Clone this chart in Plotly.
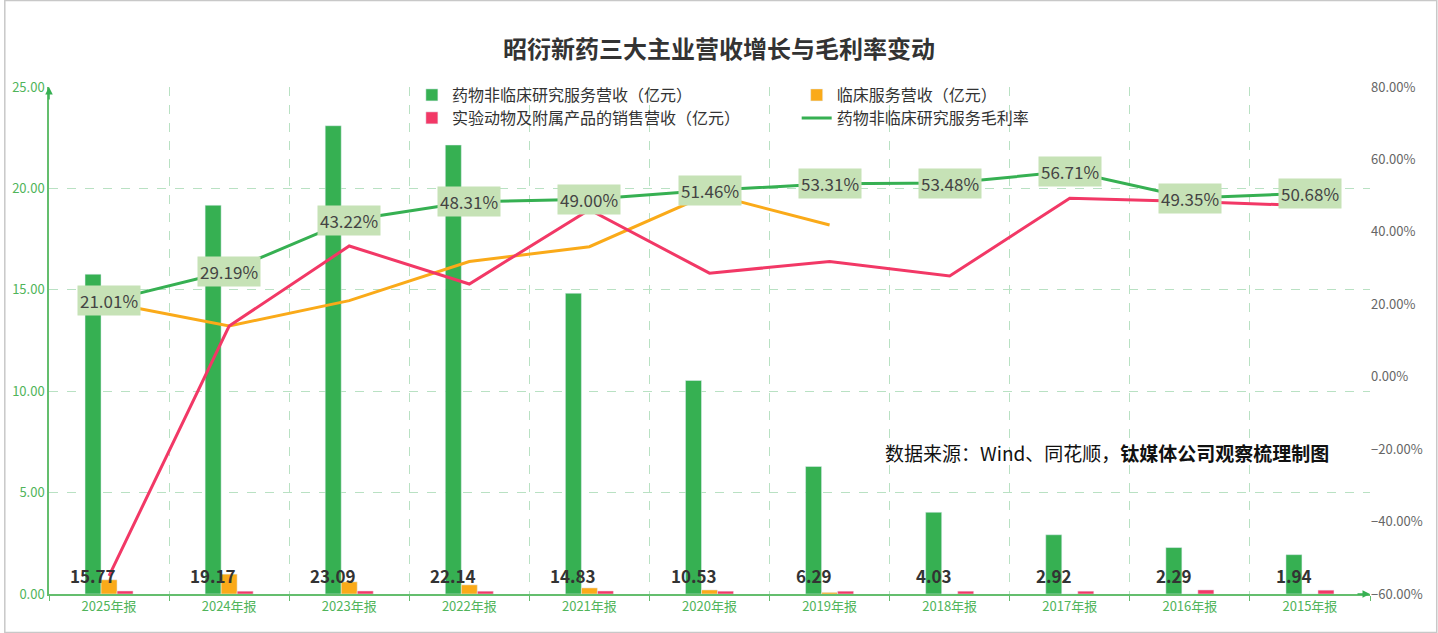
import plotly.graph_objects as go

# ---------------- 数据 ----------------
periods = ['2025年报', '2024年报', '2023年报', '2022年报', '2021年报', '2020年报',
           '2019年报', '2018年报', '2017年报', '2016年报', '2015年报']

# 营收（亿元）
rev_nonclinical = [15.77, 19.17, 23.09, 22.14, 14.83, 10.53, 6.29, 4.03, 2.92, 2.29, 1.94]
rev_clinical = [0.70, 0.98, 0.60, 0.45, 0.30, 0.20, 0.08, 0.0, 0.0, 0.0, 0.0]
rev_animal = [0.15, 0.14, 0.15, 0.14, 0.15, 0.14, 0.14, 0.14, 0.14, 0.20, 0.19]

# 毛利率（%）
gm_nonclinical = [21.01, 29.19, 43.22, 48.31, 49.00, 51.46, 53.31, 53.48, 56.71, 49.35, 50.68]
gm_clinical = [20.4, 14.0, 21.0, 31.8, 35.9, 50.5, 41.9, None, None, None, None]
gm_animal = [-55.0, 14.0, 36.1, 25.6, 46.1, 28.6, 31.8, 27.8, 49.3, 48.4, 47.2]

GREEN = 'rgb(54,176,82)'
ORANGE = 'rgb(250,170,25)'
RED = 'rgb(242,56,102)'
AXIS_GREEN = 'rgb(100,190,110)'
GRID = 'rgb(185,225,195)'

fig = go.Figure()

# 图例：两行两列，每个图例单独摆放
fig.add_trace(go.Bar(x=periods, y=rev_nonclinical, name='药物非临床研究服务营收（亿元）',
                     marker_color=GREEN, legend='legend'))
fig.add_trace(go.Bar(x=periods, y=rev_clinical, name='临床服务营收（亿元）',
                     marker_color=ORANGE, legend='legend2'))
fig.add_trace(go.Bar(x=periods, y=rev_animal, name='实验动物及附属产品的销售营收（亿元）',
                     marker_color=RED, legend='legend3'))

fig.add_trace(go.Scatter(x=periods, y=gm_nonclinical, name='药物非临床研究服务毛利率',
                         mode='lines', line=dict(color=GREEN, width=3), yaxis='y2',
                         legend='legend4'))
fig.add_trace(go.Scatter(x=periods, y=gm_clinical, mode='lines', showlegend=False,
                         line=dict(color=ORANGE, width=3), yaxis='y2', connectgaps=False))
fig.add_trace(go.Scatter(x=periods, y=gm_animal, mode='lines', showlegend=False,
                         line=dict(color=RED, width=3), yaxis='y2'))

annotations = []
# 毛利率标签
for p, v in zip(periods, gm_nonclinical):
    annotations.append(dict(x=p, y=v, xref='x', yref='y2', text='%.2f%%' % v,
                            showarrow=False, bgcolor='rgb(198,226,182)', borderpad=2,
                            font=dict(size=17, color='#444')))
# 柱子数值
for p, v in zip(periods, rev_nonclinical):
    annotations.append(dict(x=p, y=0, xref='x', yref='y', text='<b>%.2f</b>' % v,
                            showarrow=False, xshift=-16, yshift=19,
                            font=dict(size=17, color='#333')))

# 数据来源
annotations.append(dict(x=0.631, y=0.248, xref='paper', yref='paper', xanchor='left',
                        text='数据来源：Wind、同花顺，<b>钛媒体公司观察梳理制图</b>',
                        showarrow=False, font=dict(size=19, color='#111')))

# 坐标轴箭头
annotations.append(dict(x=1, y=0, xref='paper', yref='paper', ax=-14, ay=0, text='',
                        showarrow=True, arrowhead=2, arrowsize=1, arrowwidth=1.5,
                        arrowcolor=GREEN))
annotations.append(dict(x=0, y=1, xref='paper', yref='paper', ax=0, ay=14, text='',
                        showarrow=True, arrowhead=2, arrowsize=1, arrowwidth=1.5,
                        arrowcolor=GREEN))

leg_style = dict(orientation='h', xanchor='left', yanchor='middle',
                 bgcolor='rgba(0,0,0,0)', font=dict(size=16, color='#333'),
                 itemwidth=30)

fig.update_layout(
    width=1438, height=633,
    margin=dict(l=45, r=68, t=87, b=39),
    paper_bgcolor='white', plot_bgcolor='white',
    font=dict(family='Noto Sans CJK SC', size=13, color='#333'),
    title=dict(text='<b>昭衍新药三大主业营收增长与毛利率变动</b>', x=0.5, xanchor='center',
               y=1 - 50 / 633, yanchor='middle', font=dict(size=24, color='#333')),
    barmode='group', bargap=0.6, bargroupgap=0,
    legend=dict(x=0.2747, y=0.9842, **leg_style),
    legend2=dict(x=0.566, y=0.9842, **leg_style),
    legend3=dict(x=0.2747, y=0.9389, **leg_style),
    legend4=dict(x=0.566, y=0.9389, **leg_style),
    xaxis=dict(showline=True, linecolor=AXIS_GREEN, linewidth=1.5,
               tickson='boundaries', ticks='outside', ticklen=5, tickcolor=AXIS_GREEN,
               showgrid=True, gridcolor=GRID, griddash='dash',
               tickfont=dict(size=13, color='rgb(80,180,90)')),
    yaxis=dict(range=[0, 25], dtick=5, tickformat='.2f', showline=True,
               linecolor=AXIS_GREEN, linewidth=1.5, showgrid=True, gridcolor=GRID,
               griddash='dash', zeroline=False,
               tickfont=dict(size=13, color='rgb(80,180,90)')),
    yaxis2=dict(range=[-60, 80], dtick=20, tickformat='.2f', ticksuffix='%',
                overlaying='y', side='right', showgrid=False, zeroline=False,
                tickfont=dict(size=13, color='#666')),
    annotations=annotations,
    shapes=[dict(type='rect', xref='paper', yref='paper',
                 x0=-45 / 1325 + 0.0005, x1=1 + 68 / 1325 - 0.0008,
                 y0=-39 / 507 + 0.001, y1=1 + 87 / 507 - 0.001,
                 line=dict(color='rgb(200,200,200)', width=1.5), layer='below')],
)

fig.write_html("out.html", config={'displayModeBar': False},
               post_script="document.body.style.margin='0px';"
                           "document.body.style.overflow='hidden';")
